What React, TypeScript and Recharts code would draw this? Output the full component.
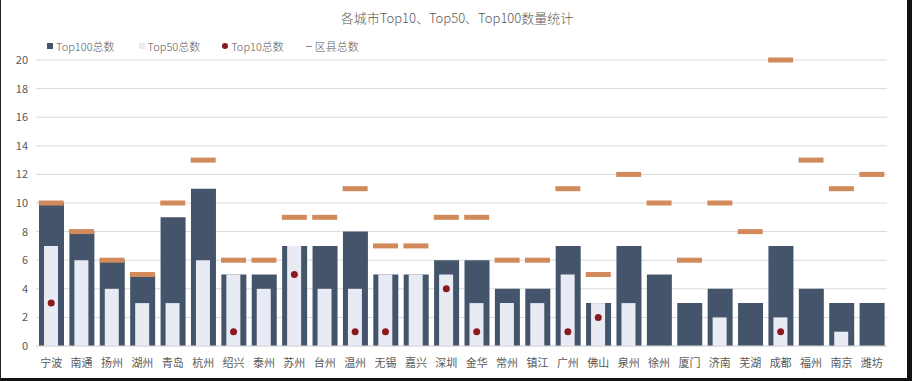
import React from 'react';
import { ComposedChart, Bar, Line, XAxis, YAxis, CartesianGrid } from 'recharts';

const cities = ['宁波', '南通', '扬州', '湖州', '青岛', '杭州', '绍兴', '泰州', '苏州', '台州', '温州', '无锡', '嘉兴', '深圳', '金华', '常州', '镇江', '广州', '佛山', '泉州', '徐州', '厦门', '济南', '芜湖', '成都', '福州', '南京', '潍坊'];
const top100 = [10, 8, 6, 5, 9, 11, 5, 5, 7, 7, 8, 5, 5, 6, 6, 4, 4, 7, 3, 7, 5, 3, 4, 3, 7, 4, 3, 3];
const top50 = [7, 6, 4, 3, 3, 6, 5, 4, 7, 4, 4, 5, 5, 5, 3, 3, 3, 5, 3, 3, 0, 0, 2, 0, 2, 0, 1, 0];
const top10: (number | null)[] = [3, null, null, null, null, null, 1, null, 5, null, 1, 1, null, 4, 1, null, null, 1, 2, null, null, null, null, null, 1, null, null, null];
const districts = [10, 8, 6, 5, 10, 13, 6, 6, 9, 9, 11, 7, 7, 9, 9, 6, 6, 11, 5, 12, 10, 6, 10, 8, 20, 13, 11, 12];
const yTicks = [0, 2, 4, 6, 8, 10, 12, 14, 16, 18, 20];

const data = cities.map((city, i) => ({
  city,
  top100: top100[i],
  top50: top50[i],
  top10: top10[i],
  districts: districts[i],
}));

const FONT = '"Noto Sans CJK SC", "Noto Sans", sans-serif';
const DARK = '#44546A';
const LIGHT = '#E9EBF4';
const RED = '#8B1A1E';
const ORANGE = '#D38A5B';
const TEXT = '#595959';

const DistrictMark = (props: any) => {
  const { cx, cy, index } = props;
  if (cx == null || cy == null) return <g key={index} />;
  return <rect key={index} x={cx - 12.5} y={cy - 2.5} width={25} height={5} fill={ORANGE} />;
};

const LegendRow = () => (
  <div style={{ position: 'absolute', left: 46, top: 38, display: 'flex', alignItems: 'center', fontFamily: FONT, fontSize: 11, color: TEXT, fontWeight: 300 }}>
    <span style={{ display: 'inline-block', width: 6, height: 6, background: DARK, marginRight: 3 }} />
    <span style={{ marginRight: 24 }}>Top100总数</span>
    <span style={{ display: 'inline-block', width: 6, height: 6, background: LIGHT, marginRight: 3 }} />
    <span style={{ marginRight: 22 }}>Top50总数</span>
    <span style={{ display: 'inline-block', width: 6, height: 6, borderRadius: 3, background: RED, marginRight: 3 }} />
    <span style={{ marginRight: 22 }}>Top10总数</span>
    <span style={{ display: 'inline-block', width: 6, height: 1, background: '#888', marginRight: 3 }} />
    <span>区县总数</span>
  </div>
);

export default function App() {
  return (
    <div style={{ position: 'fixed', left: 0, top: 0, width: 912, height: 381, background: '#fff', boxSizing: 'border-box', borderLeft: '1px solid #222', borderRight: '5px solid #111', borderBottom: '3px solid #111' }}>
      <div style={{ position: 'absolute', left: 0, top: 8, width: 912, textAlign: 'center', fontFamily: FONT, fontSize: 13, color: TEXT, fontWeight: 300 }}>
        各城市Top10、Top50、Top100数量统计
      </div>
      <div style={{ position: 'absolute', left: -2, top: 0 }}>
        <ComposedChart width={912} height={381} data={data} margin={{ top: 60, right: 24, left: 0, bottom: 0 }}>
          <CartesianGrid horizontal vertical={false} stroke="#D9D9D9" />
          <XAxis xAxisId="a" dataKey="city" height={35} tickLine={false} axisLine={{ stroke: '#D9D9D9' }} tick={{ fill: TEXT, fontSize: 11, fontFamily: FONT }} tickMargin={7} interval={0} />
          <XAxis xAxisId="b" dataKey="city" hide />
          <YAxis domain={[0, 20]} ticks={yTicks} width={37} tickLine={false} axisLine={false} tick={{ fill: TEXT, fontSize: 11, fontFamily: FONT }} />
          <Bar xAxisId="a" dataKey="top100" fill={DARK} barSize={25} isAnimationActive={false} />
          <Bar xAxisId="b" dataKey="top50" fill={LIGHT} barSize={14} isAnimationActive={false} />
          <Line xAxisId="a" dataKey="districts" stroke="none" dot={<DistrictMark />} activeDot={false} isAnimationActive={false} />
          <Line xAxisId="a" dataKey="top10" stroke="none" dot={{ r: 3.5, fill: RED, stroke: RED, strokeWidth: 0 }} activeDot={false} isAnimationActive={false} />
        </ComposedChart>
      </div>
      <LegendRow />
    </div>
  );
}
